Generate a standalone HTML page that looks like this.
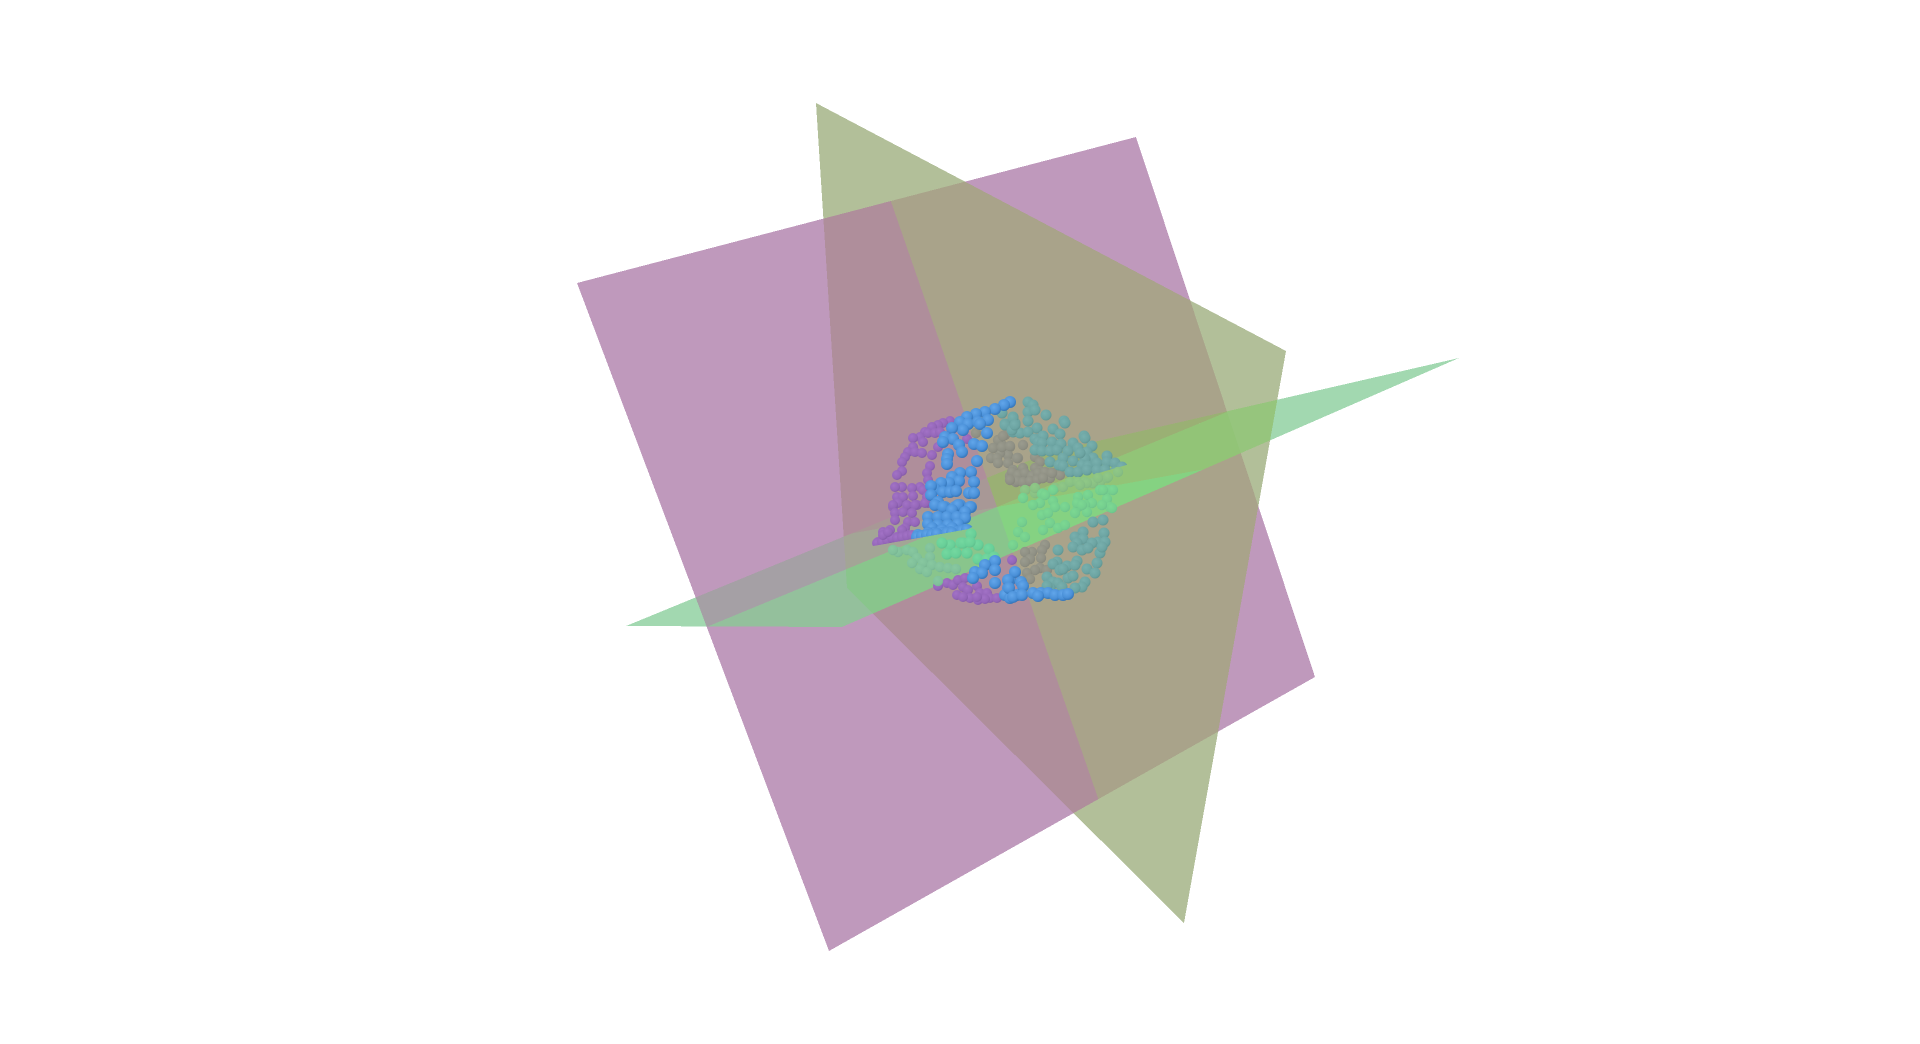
<!DOCTYPE html>
<html lang="en">
<head>
<meta charset="utf-8">
<title>3D scatter with intersecting planes</title>
<style>
html,body{margin:0;padding:0;background:#fff;width:1920px;height:1044px;overflow:hidden}
svg{display:block}
</style>
</head>
<body>
<svg id="scene" width="1920" height="1044" viewBox="0 0 1920 1044" xmlns="http://www.w3.org/2000/svg">
<defs>
<radialGradient id="g-blue" cx="40%" cy="35%" r="70%"><stop offset="0" stop-color="#62a6ea"/><stop offset=".65" stop-color="#4a90d8"/><stop offset="1" stop-color="#2f6fb2"/></radialGradient>
<radialGradient id="g-purple" cx="38%" cy="35%" r="70%"><stop offset="0" stop-color="#a272c6"/><stop offset=".7" stop-color="#9466b8"/><stop offset="1" stop-color="#8058a4"/></radialGradient>
<radialGradient id="g-teal" cx="38%" cy="35%" r="70%"><stop offset="0" stop-color="#78b0ae"/><stop offset=".7" stop-color="#6ca4a2"/><stop offset="1" stop-color="#5e928f"/></radialGradient>
<radialGradient id="g-gray" cx="38%" cy="35%" r="70%"><stop offset="0" stop-color="#9a9b8e"/><stop offset=".7" stop-color="#8f9084"/><stop offset="1" stop-color="#84857a"/></radialGradient>
<radialGradient id="g-bright" cx="38%" cy="35%" r="70%"><stop offset="0" stop-color="#74d8a0"/><stop offset=".7" stop-color="#68cf98"/><stop offset="1" stop-color="#5ebd8c"/></radialGradient>
<radialGradient id="g-pale" cx="38%" cy="35%" r="70%"><stop offset="0" stop-color="#88c8a0"/><stop offset=".7" stop-color="#80c09a"/><stop offset="1" stop-color="#76b492"/></radialGradient>
<radialGradient id="g-band" cx="38%" cy="35%" r="70%"><stop offset="0" stop-color="#7cd892"/><stop offset=".7" stop-color="#74ce8e"/><stop offset="1" stop-color="#6cc08a"/></radialGradient>
<radialGradient id="g-dim" cx="38%" cy="35%" r="70%"><stop offset="0" stop-color="#90c886"/><stop offset=".7" stop-color="#88c084"/><stop offset="1" stop-color="#80b680"/></radialGradient>
<clipPath id="upper-clip"><polygon id="upper-clip-shape" points="0,0"/></clipPath>
</defs>
<g id="planes"></g>
<g id="points-back"></g>
<g id="points-upper" clip-path="url(#upper-clip)"></g>
<g id="points-front"></g>
<g id="points-blue-upper" clip-path="url(#upper-clip)"></g>
<g id="points-blue-lower"></g>
</svg>
<script>
// Plane corners in scene units
const purplePlane = [[-423,217],[136,363],[315,-177],[-171,-451]];
const olivePlane = [[-184,397],[286,149],[184,-423],[-153,-88]];
const greenPlane = [[-374,-126],[-158,-127],[459,142],[50,48]];
// Plane intersection traces in scene units
const triplePoint = [-3,-7];
const greenPurpleTrace = [227,88];
const greenOliveTrace = [200,30];
const purpleOliveTrace = [98,-298];
const sliceOutline = [[-140,120],[140,120],[130,36],[67,18],[-32,-29],[-127,-46],[-140,-45]];

// Scatter series in scene units
const purpleUpper = [[-50,79],[-57,77],[-62,75],[-68,73],[-75,68],[-80,63],[-87,62],[-77,58],[-72,67],[-65,67],[-60,68],[-62,53],[-87,53],[-92,48],[-85,48],[-78,47],[-68,45],[-95,43],[-98,38],[-70,34],[-73,27],[-98,29],[-103,25],[-72,20],[-80,13],[-88,12],[-98,13],[-105,13],[-77,10],[-103,3],[-97,3],[-87,4],[-73,3],[-72,-3],[-102,-3],[-107,-7],[-92,-8],[-83,-5],[-33,61],[-107,-5],[-93,-5],[-85,-5],[-75,-3],[-105,-13],[-97,-12],[-88,-13],[-105,-20],[-92,-22],[-85,-22],[-95,-28],[-110,-30],[-117,-32],[-103,-37],[-112,-37],[-117,-38],[-122,-42],[-92,-35],[-102,-40],[-113,-42],[-88,-38],[-98,-30],[-123,-43],[-118,-42],[-113,-40],[-108,-38],[-103,-38],[-98,-37],[-93,-36],[-88,-35],[-117,-35],[-112,-32]];
const purpleLower = [[-62,-86],[-53,-83],[-47,-85],[-42,-80],[-35,-78],[-37,-87],[-43,-95],[-23,-86],[-32,-90],[-30,-98],[-20,-93],[-13,-93],[-22,-100],[-10,-98],[-15,-99],[-3,-98],[12,-60],[-37,-97],[-23,-97]];
const grayUpper = [[5,65],[2,55],[10,53],[23,55],[8,45],[18,42],[0,47],[35,43],[40,38],[8,37],[23,32],[13,29],[35,32],[10,24],[20,25],[28,24],[40,29],[47,27],[53,27],[15,20],[25,18],[33,22],[42,22],[50,22],[60,25],[-24,67],[-2,60],[3,64],[-7,52],[2,53],[10,54],[-9,42],[-3,42],[17,42],[-2,37],[13,30],[12,24],[18,25],[16,18],[12,28],[18,25],[25,27],[32,24],[38,27],[45,28],[52,27],[17,19],[23,18],[30,19],[37,20],[43,22],[10,20]];
const grayLower = [[45,-45],[32,-52],[25,-52],[42,-50],[30,-59],[25,-62],[41,-58],[40,-68],[35,-70],[27,-73],[30,-79],[47,-70]];
const tealUpper = [[28,98],[33,95],[28,88],[35,90],[13,83],[46,85],[5,76],[15,77],[28,79],[64,79],[65,77],[37,72],[13,68],[20,67],[28,68],[53,71],[35,61],[43,64],[60,66],[84,64],[85,62],[38,58],[42,57],[52,58],[61,56],[73,57],[92,54],[35,50],[42,49],[50,49],[57,50],[68,49],[78,52],[87,48],[63,42],[107,44],[93,42],[85,41],[50,38],[59,35],[73,39],[82,35],[88,34],[97,37],[107,38],[115,37],[63,34],[70,28],[78,28],[87,30],[97,30],[105,30],[122,33],[115,28],[80,47],[2,87],[5,75],[13,82],[12,70],[15,75]];
const tealLower = [[93,-22],[103,-20],[104,-33],[83,-32],[75,-37],[83,-39],[98,-42],[105,-42],[77,-43],[92,-43],[73,-47],[82,-50],[88,-48],[100,-53],[58,-50],[102,-47],[97,-63],[77,-61],[57,-62],[53,-64],[60,-70],[67,-66],[75,-65],[87,-69],[95,-73],[68,-78],[73,-76],[47,-77],[53,-82],[58,-83],[85,-82],[82,-87],[75,-88],[62,-87],[50,-88],[47,-86],[63,-69]];
const greenDim = [[25,10],[35,7],[43,7],[55,12],[63,13],[70,18],[78,18],[85,18],[92,17],[100,18],[107,22],[118,28],[35,12],[93,17],[87,17],[98,22],[108,23],[80,15]];
const greenBand = [[42,6],[53,10],[23,2],[40,-3],[53,-1],[33,-5],[65,-7],[45,5],[78,3],[88,5],[100,10],[108,10],[78,-7],[92,-3],[85,-5],[107,1],[110,-7],[113,10],[103,10],[55,-7],[77,-3],[87,-12],[42,-15],[48,-13],[22,-22],[50,-23],[18,-32],[43,-30],[25,-37],[58,-28],[65,-25],[75,-13],[102,-5],[13,-45],[112,-8],[82,-5]];
const greenPale = [[-102,-52],[-93,-50],[-87,-52],[-70,-48],[-83,-58],[-70,-57],[-77,-63],[-68,-65],[-60,-67],[-52,-68],[-44,-69],[-80,-69],[-73,-72],[-62,-81],[-107,-50],[-88,-63]];
const greenBright = [[-50,-45],[-39,-43],[-29,-34],[-22,-45],[-11,-49],[-53,-54],[-44,-53],[-33,-53],[-22,-59],[-13,-59],[-6,-57],[-58,-43],[-37,-43],[-30,-42]];
const blueUpper = [[10,98],[4,95],[-5,91],[-15,88],[-24,86],[-33,83],[-40,78],[-32,76],[-22,78],[-12,80],[-20,76],[-37,70],[-48,72],[-13,67],[-55,63],[-47,61],[-57,58],[-26,56],[-18,54],[-41,55],[-38,48],[-52,46],[-53,41],[-53,36],[-23,39],[-29,28],[-40,27],[-48,23],[-41,19],[-26,18],[-51,17],[-59,17],[-65,11],[-69,14],[-57,8],[-50,8],[-44,9],[-31,7],[-26,7],[-69,5],[-62,-2],[-65,-5],[-55,-7],[-40,-5],[-29,-7],[-45,-7],[-57,-7],[-42,-5],[-30,-7],[-48,-10],[-35,-12],[-72,-17],[-62,-17],[-53,-17],[-43,-17],[-35,-18],[-72,-24],[-62,-25],[-52,-25],[-42,-24],[-68,-28],[-58,-30],[-48,-28],[-82,-35],[-75,-36],[-67,-33],[-58,-33],[-50,-32],[-43,-32],[-35,-30],[-72,-33],[-83,-37],[-78,-36],[-73,-35],[-68,-35],[-63,-34],[-53,-33],[-48,-33],[-38,-31],[-33,-30]];
const blueLower = [[-5,-61],[-15,-65],[-5,-70],[-25,-72],[-18,-73],[-27,-78],[-5,-83],[10,-80],[15,-72],[8,-88],[5,-95],[10,-98],[17,-95],[8,-80],[21,-82],[23,-86],[9,-88],[13,-97],[22,-95],[33,-93],[41,-93],[48,-93],[55,-95],[63,-95],[68,-94],[38,-96]];

// Surface colours, front-most plane first in each key
const surfaceColours = {
  p:'#bf99bc', o:'#b2bf99', g:'#a2d8b0',
  po:'#af8e9b', op:'#a9a38a', pg:'#a5a0a5', gp:'#94c09c', og:'#96c57d', go:'#8fcf88',
  pog:'#a89896', pgo:'#a3a596', gpo:'#89c58c', opg:'#9ab074', ogp:'#92c477', gop:'#85d282'
};

const SVGNS = 'http://www.w3.org/2000/svg';
const originX = 1000, originY = 500, unit = 1;
function xScale(u){ return originX + u * unit; }
function yScale(v){ return originY - v * unit; }
function toScreen(p){ return [xScale(p[0]), yScale(p[1])]; }
function pointsAttr(poly){ return poly.map(function(p){ return p[0] + ',' + p[1]; }).join(' '); }

function side(a, b, p){ return (b[0]-a[0])*(p[1]-a[1]) - (b[1]-a[1])*(p[0]-a[0]); }
function clipHalf(poly, a, b, sign){
  const out = [];
  for (let i = 0; i < poly.length; i++){
    const c = poly[i], d = poly[(i+1) % poly.length];
    const sc = side(a,b,c) * sign, sd = side(a,b,d) * sign;
    if (sc >= 0) out.push(c);
    if ((sc > 0 && sd < 0) || (sc < 0 && sd > 0)){
      const t = sc / (sc - sd);
      out.push([c[0] + (d[0]-c[0])*t, c[1] + (d[1]-c[1])*t]);
    }
  }
  return out;
}
function clipConvex(poly, clip){
  let cx = 0, cy = 0;
  clip.forEach(function(p){ cx += p[0]; cy += p[1]; });
  const centre = [cx/clip.length, cy/clip.length];
  let out = poly;
  for (let i = 0; i < clip.length && out.length; i++){
    const a = clip[i], b = clip[(i+1) % clip.length];
    out = clipHalf(out, a, b, side(a,b,centre) >= 0 ? 1 : -1);
  }
  return out;
}

const shapes = { p: purplePlane.map(toScreen), o: olivePlane.map(toScreen), g: greenPlane.map(toScreen) };
const planeNames = { p:'purple-plane', o:'olive-plane', g:'green-plane' };
const T = toScreen(triplePoint);
const gpB = toScreen(greenPurpleTrace), goB = toScreen(greenOliveTrace), poB = toScreen(purpleOliveTrace);
const planesGroup = document.getElementById('planes');
const subsets = [['p'],['o'],['g'],['p','o'],['p','g'],['o','g'],['p','o','g']];
const probeAbove = [T[0], T[1]-1000];
const probeRight = [T[0]+1000, T[1]];

[1,-1].forEach(function(sGP){
  [1,-1].forEach(function(sGO){
    [1,-1].forEach(function(sPO){
      const aboveGP = (side(T,gpB,probeAbove) > 0) === (sGP > 0);
      const aboveGO = (side(T,goB,probeAbove) > 0) === (sGO > 0);
      const rightPO = (side(T,poB,probeRight) > 0) === (sPO > 0);
      const rank = { p:0, o:0, g:0 };
      if (aboveGP) rank.p++; else rank.g++;
      if (aboveGO) rank.o++; else rank.g++;
      if (rightPO) rank.o++; else rank.p++;
      subsets.forEach(function(sub){
        let poly = shapes[sub[0]];
        for (let i = 1; i < sub.length; i++) poly = clipConvex(poly, shapes[sub[i]]);
        poly = clipHalf(poly, T, gpB, sGP);
        poly = clipHalf(poly, T, goB, sGO);
        poly = clipHalf(poly, T, poB, sPO);
        if (poly.length < 3) return;
        const key = sub.slice().sort(function(a,b){ return rank[b]-rank[a]; }).join('');
        const el = document.createElementNS(SVGNS, 'polygon');
        el.setAttribute('points', pointsAttr(poly));
        el.setAttribute('fill', surfaceColours[key] || surfaceColours[sub[0]]);
        el.setAttribute('shape-rendering', 'crispEdges');
        
        
        planesGroup.appendChild(el);
      });
    });
  });
});

document.getElementById('upper-clip-shape').setAttribute('points', pointsAttr(sliceOutline.map(toScreen)));

function drawSeries(groupId, series, fill, radius, name){
  const group = document.getElementById(groupId);
  series.forEach(function(d){
    const c = document.createElementNS(SVGNS, 'circle');
    c.setAttribute('cx', xScale(d[0]));
    c.setAttribute('cy', yScale(d[1]));
    c.setAttribute('r', radius);
    c.setAttribute('fill', fill);
    
    
    group.appendChild(c);
  });
}
drawSeries('points-upper', purpleUpper, 'url(#g-purple)', 5, 'purple-point');
drawSeries('points-back', purpleLower, 'url(#g-purple)', 5, 'purple-point');
drawSeries('points-upper', grayUpper, 'url(#g-gray)', 5.2, 'gray-point');
drawSeries('points-back', grayLower, 'url(#g-gray)', 5.2, 'gray-point');
drawSeries('points-upper', tealUpper, 'url(#g-teal)', 5.5, 'teal-point');
drawSeries('points-back', tealLower, 'url(#g-teal)', 5.5, 'teal-point');
drawSeries('points-front', greenDim, 'url(#g-dim)', 5.2, 'dim-green-point');
drawSeries('points-front', greenBand, 'url(#g-band)', 5.2, 'green-band-point');
drawSeries('points-front', greenPale, 'url(#g-pale)', 5.2, 'pale-green-point');
drawSeries('points-front', greenBright, 'url(#g-bright)', 5.6, 'bright-green-point');
drawSeries('points-blue-upper', blueUpper, 'url(#g-blue)', 6, 'blue-point');
drawSeries('points-blue-lower', blueLower, 'url(#g-blue)', 6, 'blue-point');
</script>
</body>
</html>
